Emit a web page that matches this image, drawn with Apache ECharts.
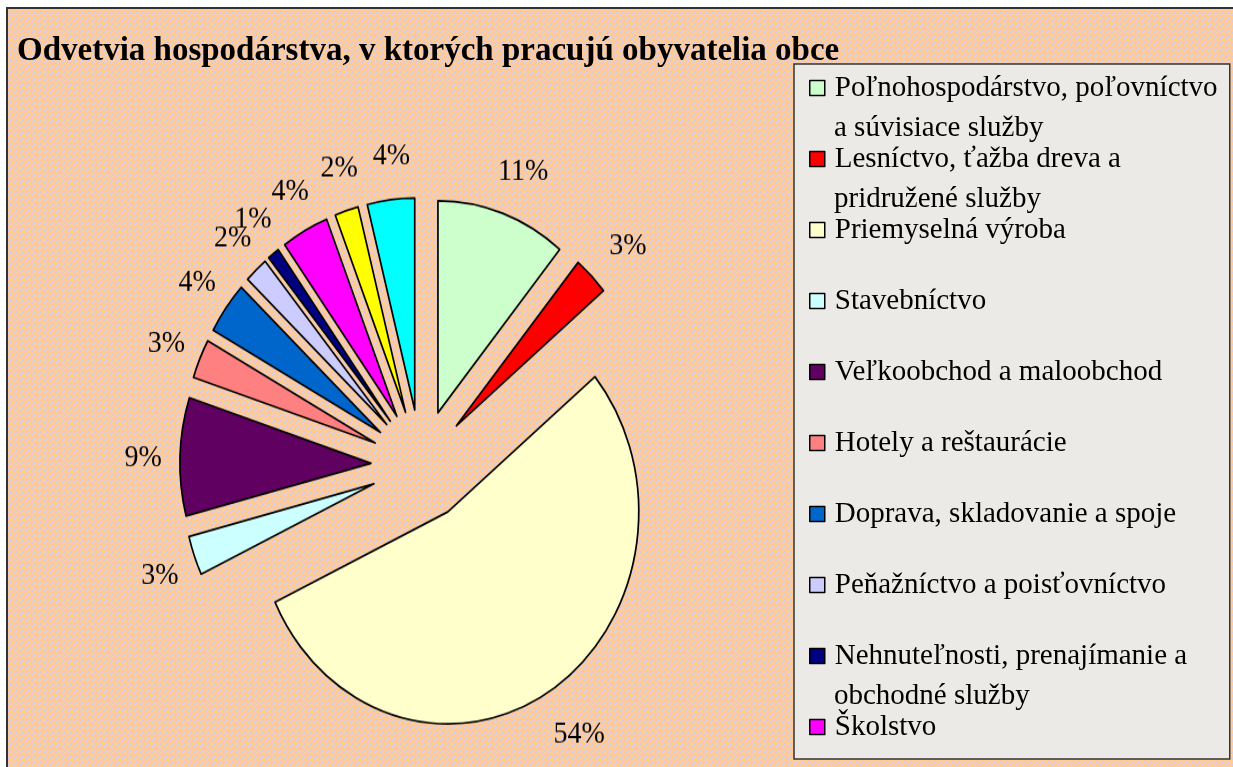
<!DOCTYPE html>
<html>
<head>
<meta charset="utf-8">
<script src="https://cdn.jsdelivr.net/npm/echarts@6/dist/echarts.min.js"></script>
<style>
  html, body { margin: 0; padding: 0; background: #ffffff; overflow: hidden; }
  body { width: 1233px; height: 767px; position: relative; }
  #frame {
    position: absolute; left: 6px; top: 7px; width: 1260px; height: 800px;
    border-left: 2px solid #333; border-top: 2px solid #333;
    background-color: #FFCC99;
    background-image: radial-gradient(circle, #D2CCEE 0.9px, rgba(255,204,153,0) 1.4px),
                      radial-gradient(circle, #D2CCEE 0.9px, rgba(255,204,153,0) 1.4px);
    background-size: 6px 6px, 6px 6px;
    background-position: 0 0, 3px 3px;
  }
  #chartA { position: absolute; left: 0; top: 0; width: 1233px; height: 767px; }
  #chartB { position: absolute; left: 0; top: 0; width: 1233px; height: 691px;
            transform: scaleY(1.11); transform-origin: 0 0; pointer-events: none; }
</style>
</head>
<body>
<div id="frame"></div>
<div id="chartA"></div>
<div id="chartB"></div>
<script>
// ---- data ----
const titleText = 'Odvetvia hospodárstva, v ktorých pracujú obyvatelia obce';
const categories = [
  'Poľnohospodárstvo, poľovníctvo a súvisiace služby',
  'Lesníctvo, ťažba dreva a pridružené služby',
  'Priemyselná výroba',
  'Stavebníctvo',
  'Veľkoobchod a maloobchod',
  'Hotely a reštaurácie',
  'Doprava, skladovanie a spoje',
  'Peňažníctvo a poisťovníctvo',
  'Nehnuteľnosti, prenajímanie a obchodné služby',
  'Školstvo',
  'Zdravotníctvo a sociálna pomoc',
  'Ostatné verejné, sociálne a osobné služby'
];
const values = [11, 3, 54, 3, 9, 3, 4, 2, 1, 4, 2, 4];
const colors = ['#CCFFCC', '#FF0000', '#FFFFCC', '#CCFFFF', '#600060', '#FF8080',
                '#0066CC', '#CCCCFF', '#000080', '#FF00FF', '#FFFF00', '#00FFFF'];
// legend shows the first ten entries, wrapped as in the original (first line, second line)
const legendFirstLines = [
  'Poľnohospodárstvo, poľovníctvo', 'Lesníctvo, ťažba dreva a', 'Priemyselná výroba',
  'Stavebníctvo', 'Veľkoobchod a maloobchod', 'Hotely a reštaurácie',
  'Doprava, skladovanie a spoje', 'Peňažníctvo a poisťovníctvo',
  'Nehnuteľnosti, prenajímanie a', 'Školstvo'
];
const legendSecondLines = [
  'a súvisiace služby', 'pridružené služby', '', '', '', '', '', '', 'obchodné služby', ''
];

const FONT = '"Liberation Serif", "DejaVu Serif", serif';
const legendNames = categories.slice(0, legendFirstLines.length);

function pieData(selected) {
  return categories.map((name, i) => ({
    name: name, value: values[i], selected: selected,
    itemStyle: { color: colors[i] }
  }));
}

const legendCommon = {
  orient: 'vertical', left: 794,
  padding: [4, 5, 12, 15],
  itemGap: 31, itemWidth: 15, itemHeight: 15,
  data: legendNames,
  selectedMode: false
};
const legendText = {
  fontFamily: FONT, fontSize: 29, color: '#000',
  lineHeight: 40, width: 390, padding: [0, 0, 0, 5]
};

// ---- chart A: title + legend ----
const chartA = echarts.init(document.getElementById('chartA'), null, { renderer: 'canvas' });
chartA.setOption({
  backgroundColor: 'transparent',
  animation: false,
  title: {
    text: titleText, left: 12, top: 30,
    textStyle: { fontFamily: FONT, fontSize: 33, fontWeight: 'bold', color: '#000' }
  },
  legend: [
    Object.assign({}, legendCommon, {
      top: 64, icon: 'rect', z: 4,
      backgroundColor: '#EBEAE7', borderColor: '#333', borderWidth: 1.5,
      itemStyle: { borderColor: '#000', borderWidth: 1.5 },
      formatter: name => legendFirstLines[legendNames.indexOf(name)],
      textStyle: legendText
    }),
    Object.assign({}, legendCommon, {
      top: 104, icon: 'none', z: 5,
      formatter: name => legendSecondLines[legendNames.indexOf(name)] || ' ',
      textStyle: legendText
    })
  ],
  series: [{
    type: 'pie', radius: [0, 0], center: [421, 465], silent: true,
    label: { show: false }, labelLine: { show: false },
    itemStyle: { borderColor: '#000', borderWidth: 1.5 },
    data: pieData(false)
  }]
});

// ---- chart B: the (vertically stretched) exploded pie ----
const chartB = echarts.init(document.getElementById('chartB'), null, { renderer: 'canvas' });
chartB.setOption({
  backgroundColor: 'transparent',
  animation: false,
  series: [{
    type: 'pie', radius: [0, 191], center: [421, 418.9], startAngle: 90, clockwise: true,
    selectedMode: 'multiple', selectedOffset: 50, silent: true,
    avoidLabelOverlap: false,
    label: { show: false }, labelLine: { show: false },
    emphasis: { disabled: true },
    itemStyle: { borderColor: '#000', borderWidth: 1.7 },
    data: pieData(true)
  }, {
    type: 'pie', radius: [221, 241], center: [427, 422], startAngle: 90, clockwise: true,
    selectedMode: 'multiple', selectedOffset: 50, silent: true,
    avoidLabelOverlap: false,
    labelLayout: { hideOverlap: false },
    itemStyle: { color: 'rgba(0,0,0,0)', borderWidth: 0 },
    emphasis: { disabled: true },
    label: {
      show: true, position: 'inside', formatter: '{c}%',
      fontFamily: FONT, fontSize: 28, color: '#000'
    },
    labelLine: { show: false },
    data: categories.map((name, i) => ({ name: name, value: values[i], selected: true }))
  }]
});
</script>
</body>
</html>
